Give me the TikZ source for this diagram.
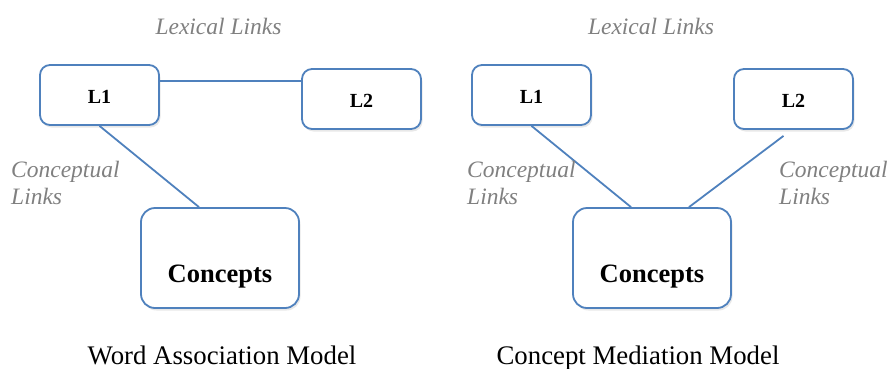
\documentclass[tikz,border=0pt]{standalone}
\usepackage{fontspec}
\setmainfont{Liberation Serif}
\usetikzlibrary{shadows,calc}
\definecolor{boxblue}{HTML}{4F81BD}
\definecolor{linkgray}{HTML}{808080}
\tikzset{
  wordbox/.style={draw=boxblue, line width=1.8pt, fill=white, rounded corners=10pt,
    minimum width=119pt, minimum height=60pt, inner sep=0pt,
    drop shadow={opacity=0.18, shadow xshift=1.5pt, shadow yshift=-2.5pt}},
  conceptbox/.style={wordbox, rounded corners=14pt, minimum width=158pt, minimum height=100pt},
  link/.style={draw=boxblue, line width=1.8pt},
  linklabel/.style={font=\fontsize{23.5}{28}\selectfont\itshape, text=linkgray, inner sep=0pt},
  boxlabel/.style={font=\fontsize{20}{24}\selectfont\bfseries, inner sep=0pt, anchor=base},
  bigboxlabel/.style={font=\fontsize{26.5}{30}\selectfont\bfseries, inner sep=0pt, anchor=base},
  title/.style={font=\fontsize{26.8}{30}\selectfont, inner sep=0pt, anchor=base}
}
\begin{document}
\begin{tikzpicture}[x=1pt, y=-1pt]
\useasboundingbox (0,0) rectangle (892,368);

% ---- Word Association Model ----
\node[wordbox] (aL1) at (99.5,95) {};
\node[wordbox] (aL2) at (361.5,99) {};
\node[conceptbox] (aC) at (220,258) {};
\node[boxlabel] (aL1t) at (99.5,103) {L1};
\node[boxlabel] (aL2t) at (361.5,107) {L2};
\node[bigboxlabel] (aCt) at (220,282) {Concepts};
\draw[link] ([yshift=14pt]aL1.east) -- ([yshift=18pt]aL2.west);
\draw[link] (aL1.south) -- ([xshift=-21pt]aC.north);
\node[linklabel, anchor=base] (aLex) at (218.5,34) {Lexical Links};
\node[linklabel, anchor=base west] (aCon1) at (11,177) {Conceptual};
\node[linklabel, anchor=base west] (aCon2) at (11,204) {Links};
\node[title] (aTitle) at (222,364) {Word Association Model};

% ---- Concept Mediation Model ----
\node[wordbox] (bL1) at (531.5,95) {};
\node[wordbox] (bL2) at (793.5,99) {};
\node[conceptbox] (bC) at (652,258) {};
\node[boxlabel] (bL1t) at (531.5,103) {L1};
\node[boxlabel] (bL2t) at (793.5,107) {L2};
\node[bigboxlabel] (bCt) at (652,282) {Concepts};
\draw[link] (bL1.south) -- ([xshift=-21pt]bC.north);
\draw[link] ([xshift=-10pt,yshift=-6pt]bL2.south) -- ([xshift=37pt]bC.north);
\node[linklabel, anchor=base] (bLex) at (651,34) {Lexical Links};
\node[linklabel, anchor=base west] (bCon1) at (467,177) {Conceptual};
\node[linklabel, anchor=base west] (bCon2) at (467,204) {Links};
\node[linklabel, anchor=base west] (bCon3) at (779,177) {Conceptual};
\node[linklabel, anchor=base west] (bCon4) at (779,204) {Links};
\node[title] (bTitle) at (638,364) {Concept Mediation Model};
\end{tikzpicture}
\end{document}
